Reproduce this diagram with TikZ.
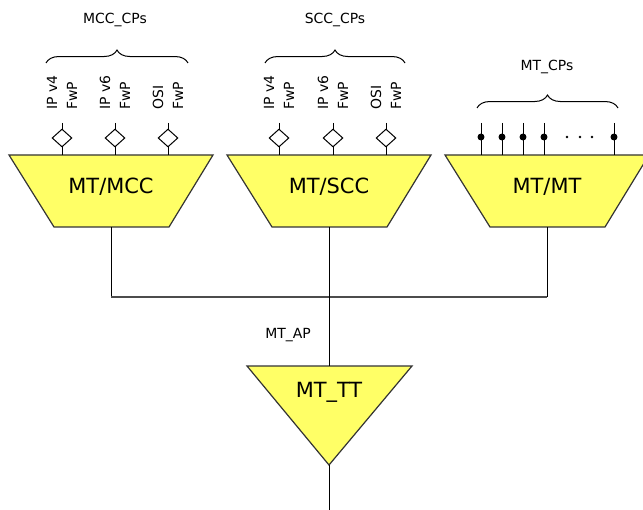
\documentclass[tikz,border=0pt]{standalone}
\usepackage{fontspec}
\setmainfont{DejaVu Sans}
\usetikzlibrary{shapes.geometric,decorations.pathreplacing}
\definecolor{blockyellow}{RGB}{255,255,102}
\begin{document}
\begin{tikzpicture}[x=1bp,y=-1bp,line width=1bp,
    block/.style={draw=black!80,fill=blockyellow,line width=1.2bp},
    blocktext/.style={font=\fontsize{21}{25}\selectfont},
    small/.style={font=\fontsize{14}{20}\selectfont},
    fwp/.style={font=\fontsize{14}{20}\selectfont,rotate=90,anchor=west,align=left,inner sep=0pt},
    port/.style={diamond,draw,fill=white,inner sep=0pt,minimum width=20,minimum height=18},
    pin/.style={circle,fill,inner sep=0pt,minimum size=7},
    cpbrace/.style={decorate,decoration={brace,amplitude=13}}]
    \useasboundingbox (0,0) rectangle (643,510);

      %%MT/MCC
      \draw[block](9, 155) -- (213, 155) -- (169, 227) -- (54, 227) -- cycle;
      \node[blocktext] (mcc) at (111, 187){MT/MCC};
      \coordinate (mcc-b) at (111, 227);
        \node[port] (mcc-p1) at (62, 138){};
        \draw(62, 123) -- (mcc-p1) -- (62, 155);
        \node[port] (mcc-p2) at (115, 138){};
        \draw(115, 123) -- (mcc-p2) -- (115, 155);
        \node[port] (mcc-p3) at (168, 138){};
        \draw(168, 123) -- (mcc-p3) -- (168, 155);
        \node[fwp] (mcc-l1) at (62, 110){IP v4\\FwP};
        \node[fwp] (mcc-l2) at (115, 110){IP v6\\FwP};
        \node[fwp] (mcc-l3) at (168, 110){OSI\\FwP};
      \draw[cpbrace](46, 63) -- (188, 63);
      \node[small] (mcc-cps) at (115, 20){MCC\_CPs};

      %%MT/SCC
      \draw[block](227, 155) -- (431, 155) -- (387, 227) -- (272, 227) -- cycle;
      \node[blocktext] (scc) at (329, 187){MT/SCC};
      \coordinate (scc-b) at (329, 227);
        \node[port] (scc-p1) at (279, 138){};
        \draw(279, 123) -- (scc-p1) -- (279, 155);
        \node[port] (scc-p2) at (333, 138){};
        \draw(333, 123) -- (scc-p2) -- (333, 155);
        \node[port] (scc-p3) at (386, 138){};
        \draw(386, 123) -- (scc-p3) -- (386, 155);
        \node[fwp] (scc-l1) at (279, 110){IP v4\\FwP};
        \node[fwp] (scc-l2) at (333, 110){IP v6\\FwP};
        \node[fwp] (scc-l3) at (386, 110){OSI\\FwP};
      \draw[cpbrace](265, 63) -- (405, 63);
      \node[small] (scc-cps) at (335, 20){SCC\_CPs};

      %%MT/MT
      \begin{scope}
        \clip(0, 0) rectangle (643, 510);
        \draw[block](445, 155) -- (649, 155) -- (605, 227) -- (490, 227) -- cycle;
      \end{scope}
      \node[blocktext] (mtmt) at (547, 187){MT/MT};
      \coordinate (mtmt-b) at (547, 227);
        \draw(481, 123) -- (481, 155);
        \node[pin] (mt-p1) at (481, 137){};
        \draw(502, 123) -- (502, 155);
        \node[pin] (mt-p2) at (502, 137){};
        \draw(523, 123) -- (523, 155);
        \node[pin] (mt-p3) at (523, 137){};
        \draw(544, 123) -- (544, 155);
        \node[pin] (mt-p4) at (544, 137){};
        \fill(567, 137) circle (1.3);
        \fill(580, 137) circle (1.3);
        \fill(592, 137) circle (1.3);
        \draw(614, 123) -- (614, 155);
        \node[pin] (mt-p5) at (614, 137){};
      \draw[cpbrace](477, 108) -- (618, 108);
      \node[small] (mt-cps) at (547, 67){MT\_CPs};

      %%bus
      \coordinate (bus-l) at (111, 297);
      \coordinate (bus-r) at (547, 297);
      \draw(mcc-b) -- (bus-l);
      \draw[black!70, line width = 1.3bp](bus-l) -- (bus-r);
      \draw(bus-r) -- (mtmt-b);

      %%MT_TT
      \draw[block](247, 366) -- (412, 366) -- (329, 465) -- cycle;
      \node[blocktext] (tt) at (329, 392){MT\_TT};
      \coordinate (tt-t) at (329, 366);
      \coordinate (tt-b) at (329, 465);
      \coordinate (out) at (329, 510);
      \draw(scc-b) -- (tt-t);
      \draw(tt-b) -- (out);
      \node[small] (ap) at (288, 335){MT\_AP};

\end{tikzpicture}
\end{document}
